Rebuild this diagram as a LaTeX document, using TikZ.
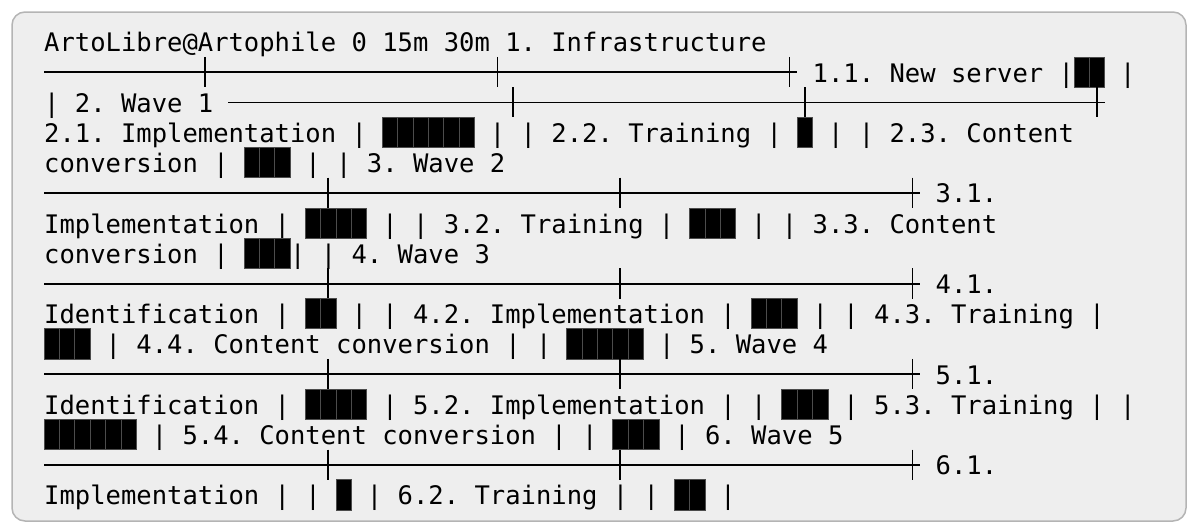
\documentclass[tikz,border=0pt]{standalone}
\usepackage{fontspec}
\newfontfamily\chartmono{DejaVu Sans Mono}
\definecolor{panelbg}{HTML}{EEEEEE}
\definecolor{panelrim}{HTML}{B4B4B4}
\frenchspacing

\begin{document}
\begin{tikzpicture}[x=15.37pt, y=-30.2pt,
        txt/.style={anchor=base west, inner sep=0pt, font=\chartmono\fontsize{25.53}{30.2}\selectfont},
        blk/.style={fill=black, draw=black!70, line width=0.6pt},
        rule/.style={line width=1.8pt},
        tick/.style={line width=1.8pt},
        panel/.style={fill=panelbg, draw=panelrim, line width=1.5pt, rounded corners=13pt}]
        \path[use as bounding box] (0pt,0pt) rectangle (1188pt,-523pt);
        \draw[panel] (12pt,-12pt) rectangle (1186pt,-521pt);

    \begin{scope}[shift={(44pt,-51.8pt)}]
        % Header and section 1
        \node[txt] (head) at (0,0) {ArtoLibre@Artophile 0 15m 30m 1. Infrastructure};
        \draw[rule] (0,0.68) -- (49,0.68);
        \foreach \c in {10,29,48} \draw[tick] (\c+0.5,0.17) -- ++(0,1);
        \node[txt] (t11) at (50,1) {1.1. New server |};
        \foreach \c in {67,68} \draw[blk] (\c,0.17) rectangle ++(1,1);
        \node[txt] (t11e) at (70,1) {|};

        % Wave 1
        \node[txt] (w1) at (0,2) {| 2. Wave 1};
        \draw[rule] (12,1.68) -- (69,1.68);
        \foreach \c in {30,49,68} \draw[tick] (\c+0.5,1.17) -- ++(0,1);
        \node[txt] (t21) at (0,3) {2.1. Implementation |};
        \foreach \c in {22,...,27} \draw[blk] (\c,2.17) rectangle ++(1,1);
        \node[txt] (t22) at (29,3) {| | 2.2. Training |};
        \draw[blk] (49,2.17) rectangle ++(1,1);
        \node[txt] (t23) at (51,3) {| | 2.3. Content};
        \node[txt] (t23b) at (0,4) {conversion |};
        \foreach \c in {13,14,15} \draw[blk] (\c,3.17) rectangle ++(1,1);

        % Wave 2
        \node[txt] (w2) at (17,4) {| | 3. Wave 2};
        \draw[rule] (0,4.68) -- (57,4.68);
        \foreach \c in {18,37,56} \draw[tick] (\c+0.5,4.17) -- ++(0,1);
        \node[txt] (t31) at (58,5) {3.1.};
        \node[txt] (t31b) at (0,6) {Implementation |};
        \foreach \c in {17,...,20} \draw[blk] (\c,5.17) rectangle ++(1,1);
        \node[txt] (t32) at (22,6) {| | 3.2. Training |};
        \foreach \c in {42,43,44} \draw[blk] (\c,5.17) rectangle ++(1,1);
        \node[txt] (t33) at (46,6) {| | 3.3. Content};
        \node[txt] (t33b) at (0,7) {conversion |};
        \foreach \c in {13,14,15} \draw[blk] (\c,6.17) rectangle ++(1,1);

        % Wave 3
        \node[txt] (w3) at (16,7) {| | 4. Wave 3};
        \draw[rule] (0,7.68) -- (57,7.68);
        \foreach \c in {18,37,56} \draw[tick] (\c+0.5,7.17) -- ++(0,1);
        \node[txt] (t41) at (58,8) {4.1.};
        \node[txt] (t41b) at (0,9) {Identification |};
        \foreach \c in {17,18} \draw[blk] (\c,8.17) rectangle ++(1,1);
        \node[txt] (t42) at (20,9) {| | 4.2. Implementation |};
        \foreach \c in {46,47,48} \draw[blk] (\c,8.17) rectangle ++(1,1);
        \node[txt] (t43) at (50,9) {| | 4.3. Training |};
        \foreach \c in {0,1,2} \draw[blk] (\c,9.17) rectangle ++(1,1);
        \node[txt] (t44) at (4,10) {| 4.4. Content conversion | |};
        \foreach \c in {34,...,38} \draw[blk] (\c,9.17) rectangle ++(1,1);

        % Wave 4
        \node[txt] (w4) at (40,10) {| 5. Wave 4};
        \draw[rule] (0,10.68) -- (57,10.68);
        \foreach \c in {18,37,56} \draw[tick] (\c+0.5,10.17) -- ++(0,1);
        \node[txt] (t51) at (58,11) {5.1.};
        \node[txt] (t51b) at (0,12) {Identification |};
        \foreach \c in {17,...,20} \draw[blk] (\c,11.17) rectangle ++(1,1);
        \node[txt] (t52) at (22,12) {| 5.2. Implementation | |};
        \foreach \c in {48,49,50} \draw[blk] (\c,11.17) rectangle ++(1,1);
        \node[txt] (t53) at (52,12) {| 5.3. Training | |};
        \foreach \c in {0,...,5} \draw[blk] (\c,12.17) rectangle ++(1,1);
        \node[txt] (t54) at (7,13) {| 5.4. Content conversion | |};
        \foreach \c in {37,38,39} \draw[blk] (\c,12.17) rectangle ++(1,1);

        % Wave 5
        \node[txt] (w5) at (41,13) {| 6. Wave 5};
        \draw[rule] (0,13.68) -- (57,13.68);
        \foreach \c in {18,37,56} \draw[tick] (\c+0.5,13.17) -- ++(0,1);
        \node[txt] (t61) at (58,14) {6.1.};
        \node[txt] (t61b) at (0,15) {Implementation | |};
        \draw[blk] (19,14.17) rectangle ++(1,1);
        \node[txt] (t62) at (21,15) {| 6.2. Training | |};
        \foreach \c in {41,42} \draw[blk] (\c,14.17) rectangle ++(1,1);
        \node[txt] (t62e) at (44,15) {|};
    \end{scope}
\end{tikzpicture}
\end{document}
